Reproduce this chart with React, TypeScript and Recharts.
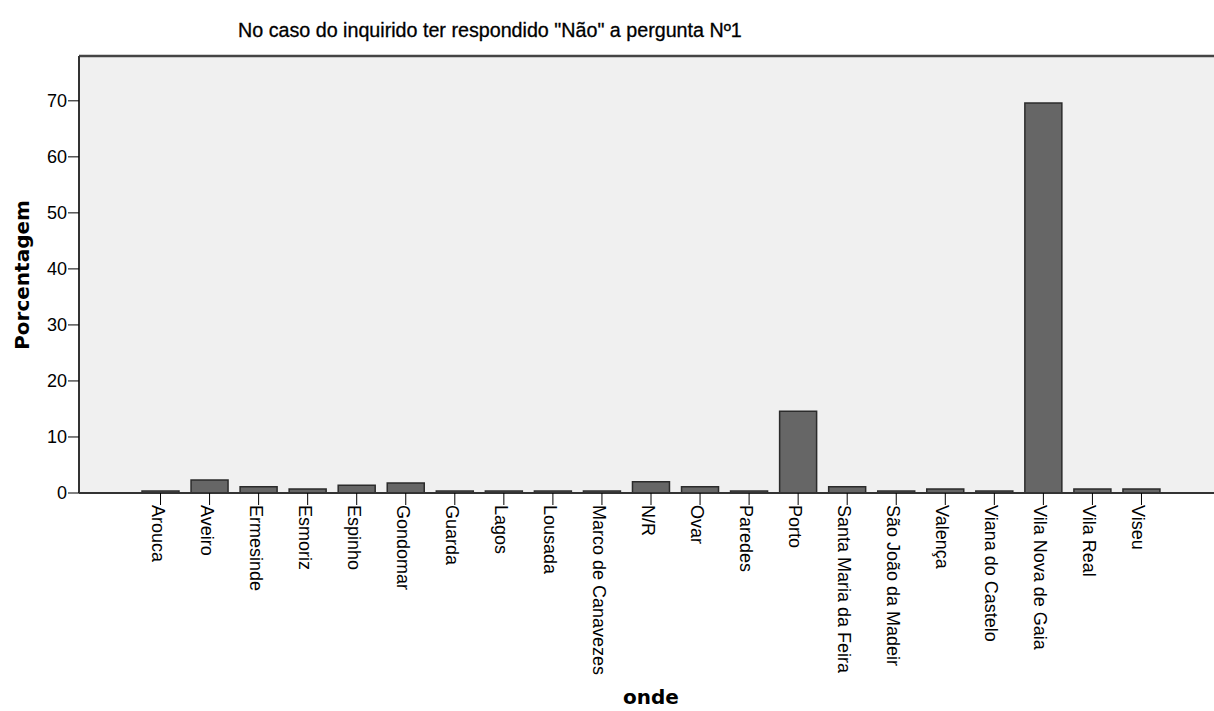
import { BarChart, Bar, XAxis, YAxis, CartesianGrid, ReferenceLine, Label } from "recharts";

const places = [
  "Arouca", "Aveiro", "Ermesinde", "Esmoriz", "Espinho", "Gondomar", "Guarda",
  "Lagos", "Lousada", "Marco de Canavezes", "N/R", "Ovar", "Paredes", "Porto",
  "Santa Maria da Feira", "São João da Madeir", "Valença", "Viana do Castelo",
  "Vila Nova de Gaia", "Vila Real", "Viseu"
];

const percents = [
  0.36, 2.3, 1.1, 0.7, 1.4, 1.8, 0.36,
  0.36, 0.36, 0.36, 2.0, 1.1, 0.36, 14.6,
  1.1, 0.36, 0.7, 0.36, 69.6, 0.7, 0.7
];

const yTicks = [0, 10, 20, 30, 40, 50, 60, 70];
const yMax = 78;

const data = places.map((onde, i) => ({ onde, pct: percents[i] }));

const tickFont = "Arial, 'Liberation Sans', sans-serif";
const boldFont = "'DejaVu Sans', Verdana, sans-serif";

function PlaceTick(props: any) {
  const { x, y, payload } = props;
  return (
    <g transform={`translate(${x},${y})`}>
      <text
        transform="rotate(90)"
        x={0}
        y={0}
        dy={9}
        textAnchor="start"
        fill="#000"
        fontSize={18}
        fontFamily={tickFont}
      >
        {payload.value}
      </text>
    </g>
  );
}

export default function App() {
  return (
    <div style={{ position: "absolute", left: 0, top: 0, background: "#fff" }}>
      <BarChart
        width={1214}
        height={711}
        data={data}
        margin={{ top: 56, right: 0, bottom: 0, left: 0 }}
      >
        <CartesianGrid fill="#f0f0f0" horizontal={false} vertical={false} />
        <text x={238} y={37} fontSize={19.7} fontFamily={tickFont} fill="#000" stroke="#000" strokeWidth={0.3}>
          No caso do inquirido ter respondido "Não" a pergunta Nº1
        </text>
        <XAxis
          dataKey="onde"
          height={218}
          padding={{ left: 57, right: 48 }}
          tickSize={12}
          tickMargin={0}
          tick={<PlaceTick />}
          interval={0}
          axisLine={{ stroke: "#333", strokeWidth: 2 }}
          tickLine={{ stroke: "#000" }}
        >
          <Label
            content={() => (
              <text x={651} y={704} textAnchor="middle" fontSize={20} fontWeight="bold" fontFamily={boldFont} fill="#000">
                onde
              </text>
            )}
          />
        </XAxis>
        <YAxis
          width={79}
          domain={[0, yMax]}
          ticks={yTicks}
          tickSize={11}
          tickMargin={1}
          allowDataOverflow
          tick={{ fill: "#000", fontSize: 18, fontFamily: tickFont }}
          axisLine={{ stroke: "#333", strokeWidth: 2 }}
          tickLine={{ stroke: "#000" }}
        >
          <Label
            content={() => (
              <text
                transform="translate(29,275) rotate(-90)"
                textAnchor="middle"
                fontSize={20}
                fontWeight="bold"
                fontFamily={boldFont}
                fill="#000"
              >
                Porcentagem
              </text>
            )}
          />
        </YAxis>
        <ReferenceLine y={yMax} stroke="#444" strokeWidth={2.5} />
        <Bar
          dataKey="pct"
          fill="#666666"
          stroke="#2b2b2b"
          strokeWidth={1.5}
          barSize={37}
          isAnimationActive={false}
        />
      </BarChart>
    </div>
  );
}
